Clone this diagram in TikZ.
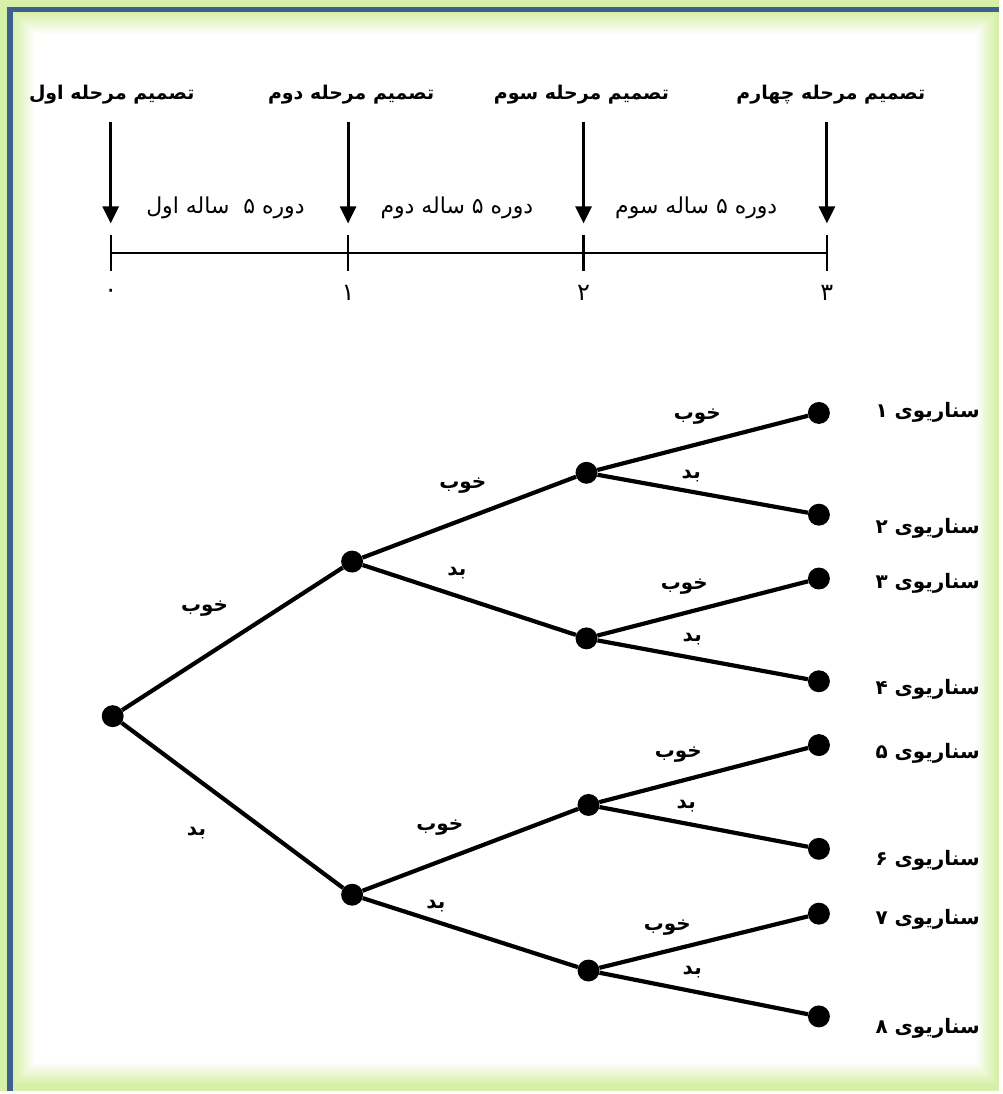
\documentclass[tikz,border=0pt]{standalone}
\usepackage{fontspec}
\usetikzlibrary{arrows.meta}
\TeXXeTstate=1
\newfontfamily\farsi[Script=Arabic]{DejaVu Sans}
\newcommand{\rtltext}[1]{\beginR#1\endR}
\definecolor{glowgreen}{RGB}{214,240,168}
\definecolor{frameblue}{RGB}{62,96,145}

\begin{document}
\begin{tikzpicture}[x=1pt, y=-1pt,
    dot/.style={circle, fill=black, inner sep=0pt, minimum size=22pt},
    branch/.style={line width=4.2pt},
    axis/.style={line width=2.2pt},
    down/.style={-{Triangle[length=17pt, width=16pt]}, line width=2.8pt},
    head/.style={font=\farsi\bfseries\fontsize{19}{23}\selectfont, inner sep=1pt},
    period/.style={font=\farsi\fontsize{22}{26}\selectfont, inner sep=1pt},
    lbl/.style={font=\farsi\bfseries\fontsize{20}{24}\selectfont, inner sep=1pt},
    num/.style={font=\farsi\fontsize{24}{28}\selectfont, inner sep=1pt}
]
    % frame with soft green glow
    \fill[glowgreen] (0,0) rectangle (1002,1094);
    \foreach \i in {0,...,22}
        \fill[glowgreen!\the\numexpr100-45*\i/10\relax!white] (13+\i,12+\i) rectangle (1000-\i,1088-\i);
    \draw[frameblue, line width=5.6pt, line join=miter] (10.3,1094) -- (10.3,9.5) -- (1002,9.5);

    % time axis
    \coordinate (t0) at (111,254);
    \coordinate (t3) at (829,254);
    \draw[axis] (t0) -- (t3);
    \foreach \x/\n/\d in {111/0/۰, 349/1/۱, 585/2/۲, 829/3/۳} {
        \coordinate (a\n) at (\x,122);
        \coordinate (b\n) at (\x,224);
        \draw[axis] (\x,236) -- (\x,272);
        \draw[down] (a\n) -- (b\n);
        \node[num] (d\n) at (\x,294) {\rtltext{\d}};
    }
    \node[head] (h0) at (112,95) {\rtltext{تصمیم مرحله اول}};
    \node[head] (h1) at (352,95) {\rtltext{تصمیم مرحله دوم}};
    \node[head] (h2) at (583,95) {\rtltext{تصمیم مرحله سوم}};
    \node[head] (h3) at (833,95) {\rtltext{تصمیم مرحله چهارم}};
    \node[period] (p1) at (226,208) {\rtltext{دوره ۵\ \ ساله اول}};
    \node[period] (p2) at (458,208) {\rtltext{دوره ۵ ساله دوم}};
    \node[period] (p3) at (698,208) {\rtltext{دوره ۵ ساله سوم}};

    % scenario tree
    \node[dot] (root) at (113,718) {};
    \node[dot] (n1) at (353,563) {};
    \node[dot] (n2) at (353,897) {};
    \node[dot] (n11) at (588,474) {};
    \node[dot] (n12) at (588,640) {};
    \node[dot] (n21) at (590,807) {};
    \node[dot] (n22) at (590,973) {};
    \foreach \k/\y/\ly/\d in {1/414/413/۱, 2/516/530/۲, 3/580/585/۳, 4/683/691/۴,
                             5/747/755/۵, 6/851/863/۶, 7/916/922/۷, 8/1019/1031/۸} {
        \node[dot] (l\k) at (821,\y) {};
        \node[lbl] (s\k) at (930,\ly) {\rtltext{سناریوی \d}};
    }
    \draw[branch] (root) -- (n1);
    \draw[branch] (root) -- (n2);
    \draw[branch] (n1) -- (n11);
    \draw[branch] (n1) -- (n12);
    \draw[branch] (n2) -- (n21);
    \draw[branch] (n2) -- (n22);
    \draw[branch] (n11) -- (l1);
    \draw[branch] (n11) -- (l2);
    \draw[branch] (n12) -- (l3);
    \draw[branch] (n12) -- (l4);
    \draw[branch] (n21) -- (l5);
    \draw[branch] (n21) -- (l6);
    \draw[branch] (n22) -- (l7);
    \draw[branch] (n22) -- (l8);

    % branch labels
    \node[lbl] at (205,610) {\rtltext{خوب}};
    \node[lbl] at (197,835) {\rtltext{بد}};
    \node[lbl] at (464,487) {\rtltext{خوب}};
    \node[lbl] at (458,575) {\rtltext{بد}};
    \node[lbl] at (441,830) {\rtltext{خوب}};
    \node[lbl] at (437,908) {\rtltext{بد}};
    \node[lbl] at (699,418) {\rtltext{خوب}};
    \node[lbl] at (693,477) {\rtltext{بد}};
    \node[lbl] at (686,588) {\rtltext{خوب}};
    \node[lbl] at (694,641) {\rtltext{بد}};
    \node[lbl] at (680,757) {\rtltext{خوب}};
    \node[lbl] at (688,808) {\rtltext{بد}};
    \node[lbl] at (669,930) {\rtltext{خوب}};
    \node[lbl] at (694,975) {\rtltext{بد}};
\end{tikzpicture}
\end{document}
